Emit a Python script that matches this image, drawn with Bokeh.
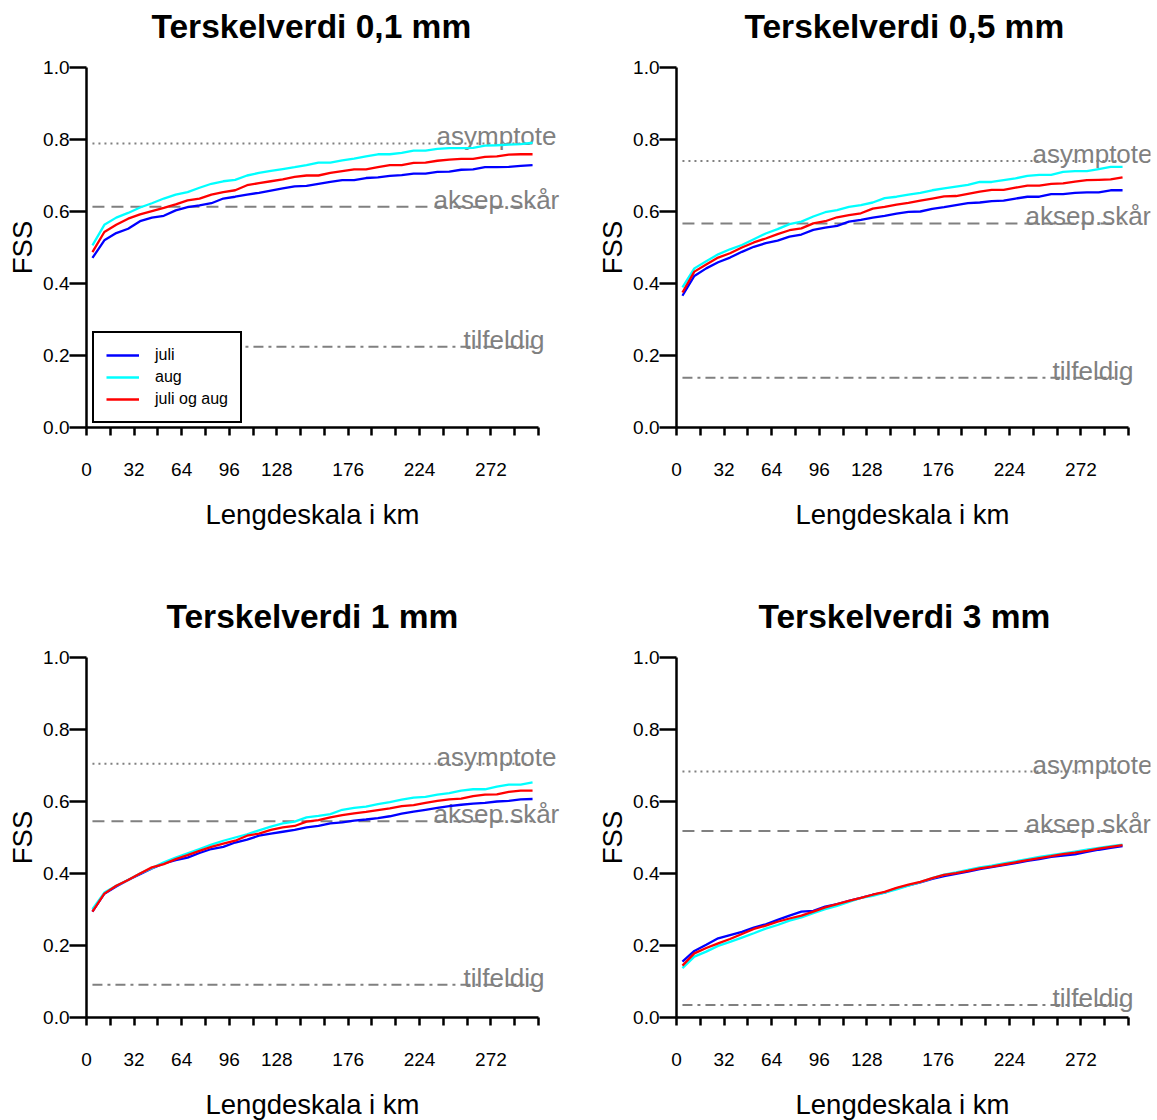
from bokeh.plotting import figure
from bokeh.models import Range1d, FixedTicker, PrintfTickFormatter, Title
from bokeh.layouts import column, row
from bokeh.embed import file_html
from bokeh.resources import INLINE
from bokeh.core.properties import value

# ---------------- data ----------------
LENGTH_KM = [4, 12, 20, 28, 36, 44, 52, 60, 68, 76, 84, 92, 100, 108, 116, 124, 132,
             140, 148, 156, 164, 172, 180, 188, 196, 204, 212, 220, 228, 236, 244,
             252, 260, 268, 276, 284, 292, 300]

SERIES_NAMES = ["juli", "aug", "juli og aug"]
TITLES = ["Terskelverdi 0,1 mm", "Terskelverdi 0,5 mm", "Terskelverdi 1 mm", "Terskelverdi 3 mm"]
X_LABEL = "Lengdeskala i km"
Y_LABEL = "FSS"

JULI_01 = [0.471, 0.520, 0.540, 0.552, 0.573, 0.583, 0.588, 0.603, 0.612, 0.617, 0.623, 0.636, 0.641,
           0.647, 0.652, 0.658, 0.664, 0.670, 0.671, 0.677, 0.682, 0.687, 0.687, 0.693, 0.695, 0.699,
           0.701, 0.705, 0.705, 0.710, 0.711, 0.716, 0.717, 0.723, 0.723, 0.724, 0.727, 0.729]
AUG_01 = [0.506, 0.563, 0.583, 0.596, 0.611, 0.623, 0.636, 0.647, 0.654, 0.666, 0.677, 0.684, 0.688,
          0.700, 0.707, 0.713, 0.718, 0.723, 0.729, 0.736, 0.736, 0.742, 0.747, 0.753, 0.759, 0.759,
          0.763, 0.769, 0.769, 0.774, 0.776, 0.776, 0.777, 0.783, 0.784, 0.786, 0.787, 0.791]
BEGGE_01 = [0.487, 0.543, 0.563, 0.580, 0.592, 0.601, 0.610, 0.620, 0.631, 0.636, 0.647, 0.654, 0.659,
            0.673, 0.679, 0.684, 0.689, 0.696, 0.700, 0.700, 0.707, 0.712, 0.717, 0.717, 0.723, 0.729,
            0.729, 0.735, 0.736, 0.741, 0.744, 0.746, 0.746, 0.752, 0.753, 0.758, 0.759, 0.759]

JULI_05 = [0.366, 0.421, 0.442, 0.459, 0.472, 0.488, 0.502, 0.512, 0.519, 0.530, 0.536, 0.549, 0.555,
           0.560, 0.572, 0.577, 0.583, 0.588, 0.594, 0.599, 0.600, 0.607, 0.612, 0.618, 0.623, 0.625,
           0.629, 0.630, 0.636, 0.641, 0.641, 0.648, 0.648, 0.652, 0.653, 0.653, 0.659, 0.659]
AUG_05 = [0.389, 0.442, 0.462, 0.481, 0.495, 0.507, 0.523, 0.539, 0.551, 0.565, 0.572, 0.586, 0.598,
          0.604, 0.613, 0.618, 0.625, 0.637, 0.641, 0.647, 0.652, 0.659, 0.664, 0.669, 0.674, 0.682,
          0.682, 0.687, 0.692, 0.699, 0.702, 0.702, 0.710, 0.712, 0.712, 0.718, 0.724, 0.724]
BEGGE_05 = [0.375, 0.433, 0.453, 0.472, 0.484, 0.500, 0.514, 0.525, 0.537, 0.548, 0.553, 0.567, 0.573,
            0.584, 0.590, 0.595, 0.608, 0.613, 0.619, 0.624, 0.630, 0.636, 0.642, 0.643, 0.649, 0.655,
            0.660, 0.660, 0.666, 0.672, 0.672, 0.677, 0.678, 0.683, 0.687, 0.688, 0.689, 0.695]

JULI_1 = [0.294, 0.344, 0.364, 0.382, 0.398, 0.414, 0.428, 0.437, 0.444, 0.457, 0.468, 0.474, 0.486,
          0.494, 0.505, 0.511, 0.516, 0.521, 0.528, 0.532, 0.539, 0.542, 0.547, 0.550, 0.554, 0.559,
          0.566, 0.572, 0.577, 0.582, 0.587, 0.591, 0.594, 0.596, 0.600, 0.602, 0.606, 0.607]
AUG_1 = [0.301, 0.347, 0.366, 0.382, 0.400, 0.415, 0.431, 0.444, 0.456, 0.468, 0.480, 0.491, 0.500,
         0.509, 0.520, 0.530, 0.539, 0.544, 0.556, 0.560, 0.565, 0.577, 0.582, 0.586, 0.593, 0.598,
         0.605, 0.611, 0.613, 0.619, 0.623, 0.630, 0.634, 0.634, 0.641, 0.647, 0.647, 0.653]
BEGGE_1 = [0.294, 0.344, 0.366, 0.382, 0.400, 0.417, 0.426, 0.440, 0.451, 0.463, 0.474, 0.483, 0.491,
           0.505, 0.511, 0.521, 0.528, 0.532, 0.544, 0.548, 0.556, 0.562, 0.567, 0.571, 0.576, 0.581,
           0.587, 0.590, 0.596, 0.602, 0.606, 0.608, 0.615, 0.619, 0.620, 0.627, 0.630, 0.630]

JULI_3 = [0.155, 0.185, 0.202, 0.220, 0.229, 0.238, 0.250, 0.259, 0.271, 0.283, 0.294, 0.296, 0.308,
          0.315, 0.324, 0.332, 0.341, 0.347, 0.359, 0.367, 0.375, 0.385, 0.393, 0.399, 0.405, 0.412,
          0.418, 0.423, 0.429, 0.435, 0.440, 0.446, 0.450, 0.453, 0.460, 0.466, 0.471, 0.476]
AUG_3 = [0.137, 0.169, 0.183, 0.199, 0.210, 0.222, 0.234, 0.247, 0.257, 0.269, 0.278, 0.290, 0.301,
         0.310, 0.321, 0.332, 0.338, 0.347, 0.356, 0.366, 0.376, 0.387, 0.397, 0.403, 0.410, 0.417,
         0.422, 0.428, 0.434, 0.440, 0.446, 0.451, 0.456, 0.461, 0.466, 0.471, 0.476, 0.480]
BEGGE_3 = [0.144, 0.178, 0.193, 0.206, 0.218, 0.232, 0.246, 0.255, 0.266, 0.275, 0.283, 0.294, 0.306,
           0.315, 0.324, 0.332, 0.341, 0.349, 0.360, 0.369, 0.377, 0.387, 0.396, 0.401, 0.407, 0.414,
           0.419, 0.425, 0.431, 0.437, 0.443, 0.448, 0.454, 0.458, 0.463, 0.469, 0.474, 0.479]

ASYMPTOTE = [0.789, 0.740, 0.705, 0.683]
AKSEP = [0.613, 0.567, 0.545, 0.518]
TILFELDIG = [0.224, 0.138, 0.091, 0.035]
REF_NAMES = ["asymptote", "aksep.skår", "tilfeldig"]

X_TICKS = [0, 16, 32, 48, 64, 80, 96, 112, 128, 144, 160, 176, 192, 208, 224, 240, 256, 272, 288, 304]
X_TICK_LABELS = [0, 32, 64, 96, 128, 176, 224, 272]
Y_TICKS = [0.0, 0.2, 0.4, 0.6, 0.8, 1.0]

PANELS = [
    (JULI_01, AUG_01, BEGGE_01),
    (JULI_05, AUG_05, BEGGE_05),
    (JULI_1, AUG_1, BEGGE_1),
    (JULI_3, AUG_3, BEGGE_3),
]

# ---------------- style ----------------
FONT = "Liberation Sans"
COLORS = ["#0000FF", "#00FFFF", "#FF0000"]
GREY = "#808080"
REF_DASH = ["2 4", "12 7", "10 5 3 5"]
REF_TEXT_OFFSET_LEFT = [-96, -99, -69]
REF_TEXT_OFFSET_RIGHT = [-90, -97, -70]
TITLE_OFFSET = [65, 68, 80, 82]
FRAME_W, FRAME_H = 474, 360
PX_PER_KM = 452 / 304


def make_panel(k):
    left_col = (k % 2 == 0)
    top_row = (k < 2)
    p = figure(
        output_backend="svg", toolbar_location=None, title=None,
        frame_width=FRAME_W, frame_height=FRAME_H,
        min_border_left=86, min_border_right=30 if left_col else 7,
        min_border_top=67, min_border_bottom=163 if top_row else 60,
        x_range=Range1d(0, FRAME_W / PX_PER_KM), y_range=Range1d(0, 1),
    )
    p.outline_line_color = None
    p.grid.visible = False
    p.background_fill_color = "white"
    p.border_fill_color = "white"

    # titles above: a thin spacer first, then the real title
    p.add_layout(Title(text=" ", text_font_size="1px", standoff=20), "above")
    p.add_layout(Title(text=TITLES[k], align="left", offset=TITLE_OFFSET[k], standoff=0,
                       vertical_align="bottom", text_font=FONT, text_font_size="33.5px",
                       text_font_style="bold", text_color="black"), "above")
    # x-axis label as a title below the axis
    p.add_layout(Title(text=X_LABEL, align="left", offset=119, standoff=40,
                       vertical_align="top", text_font=FONT, text_font_size="27.5px",
                       text_font_style="normal", text_color="black"), "below")

    # reference lines
    refs = [ASYMPTOTE[k], AKSEP[k], TILFELDIG[k]]
    offs = REF_TEXT_OFFSET_LEFT if left_col else REF_TEXT_OFFSET_RIGHT
    xs = [LENGTH_KM[0], LENGTH_KM[-1]]
    for j, val in enumerate(refs):
        p.line(xs, [val, val], line_color=GREY, line_width=2, line_dash=REF_DASH[j])
    for j, val in enumerate(refs):
        p.text(x=[LENGTH_KM[-1]], y=[val], text=[REF_NAMES[j]], x_offset=offs[j],
               y_offset=-7, text_font=value(FONT), text_font_size="26px", text_color=GREY,
               text_baseline="alphabetic", text_align="left")

    # data lines
    for j, ys in enumerate(PANELS[k]):
        kw = {}
        if k == 0:
            kw["legend_label"] = SERIES_NAMES[j]
        p.line(LENGTH_KM, ys, line_color=COLORS[j], line_width=2.3, **kw)

    # axes
    xa = p.xaxis[0]
    xa.ticker = FixedTicker(ticks=X_TICKS)
    xa.major_label_overrides = {t_: (str(t_) if t_ in X_TICK_LABELS else "") for t_ in X_TICKS}
    xa.bounds = (X_TICKS[0], X_TICKS[-1])
    xa.minor_tick_line_color = None
    xa.major_tick_in = 0
    xa.major_tick_out = 8
    xa.major_label_standoff = 27

    ya = p.yaxis[0]
    ya.ticker = FixedTicker(ticks=Y_TICKS)
    ya.formatter = PrintfTickFormatter(format="%.1f")
    ya.bounds = (0, 1)
    ya.minor_tick_line_color = None
    ya.major_tick_in = 0
    ya.major_tick_out = 17
    ya.major_label_standoff = 0
    ya.axis_label = Y_LABEL
    ya.axis_label_standoff = 2

    for ax in (xa, ya):
        ax.axis_line_width = 2.5
        ax.axis_line_color = "black"
        ax.major_tick_line_width = 2.5
        ax.major_tick_line_color = "black"
        ax.major_label_text_font = FONT
        ax.major_label_text_font_size = "19px"
        ax.major_label_text_color = "black"
        ax.axis_label_text_font = FONT
        ax.axis_label_text_font_size = "27.5px"
        ax.axis_label_text_font_style = "normal"
        ax.axis_label_text_color = "black"

    if k == 0:
        lg = p.legend[0]
        lg.location = (6, 4)
        lg.border_line_color = "black"
        lg.border_line_alpha = 1
        lg.border_line_width = 2
        lg.background_fill_color = "white"
        lg.background_fill_alpha = 1
        lg.label_text_font = FONT
        lg.label_text_font_size = "16px"
        lg.label_text_color = "black"
        lg.glyph_width = 33
        lg.glyph_height = 20
        lg.label_height = 20
        lg.label_standoff = 16
        lg.spacing = 2
        lg.padding = 12
        lg.margin = 0
    return p


panels = [make_panel(k) for k in range(4)]
layout = column(row(panels[0], panels[1]), row(panels[2], panels[3]))
open("out.html", "w").write(file_html(layout, INLINE))
